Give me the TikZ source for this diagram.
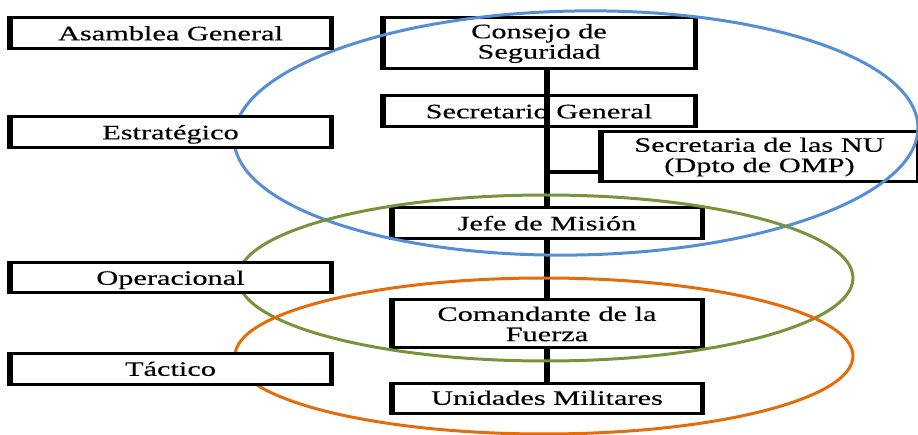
\documentclass[tikz,border=0pt]{standalone}
\usepackage{fontspec}
\setmainfont{Liberation Serif}[FakeStretch=1.48, FakeBold=0.3]
\definecolor{eblue}{HTML}{558ED5}
\definecolor{egreen}{HTML}{77933C}
\definecolor{eorange}{HTML}{E46C0A}
\tikzset{
  sidestroke/.style={draw=black, line width=4.8pt, line cap=butt},
  box/.style={draw=black, fill=white, line width=3pt, rectangle, inner sep=0pt, align=center,
    font=\fontsize{20.5}{20.3}\selectfont,
    append after command={(\tikzlastnode.north west) edge[sidestroke] (\tikzlastnode.south west)
      (\tikzlastnode.north east) edge[sidestroke] (\tikzlastnode.south east)}},
  oneline/.style={text height=15pt, text depth=1.4pt},
  link/.style={draw=black, line width=5.5pt},
  branch/.style={draw=black, line width=3.2pt},
  ring/.style={line width=3pt},
}
\begin{document}
\begin{tikzpicture}[x=1pt, y=-1pt]
\useasboundingbox (0,0) rectangle (918,435);
% central column
\node[box, minimum width=310, minimum height=51] (cs) at (539,43.5) {Consejo de\\Seguridad};
\node[box, oneline, minimum width=310, minimum height=31] (sg) at (539,111.5) {Secretario General};
\node[box, minimum width=315, minimum height=50] (nu) at (759.5,157) {Secretaria de las NU\\(Dpto de OMP)};
\node[box, oneline, minimum width=308, minimum height=31] (jm) at (547,223.5) {Jefe de Misión};
\node[box, minimum width=308, minimum height=48] (cf) at (547,324) {Comandante de la\\Fuerza};
\node[box, oneline, minimum width=308, minimum height=30] (um) at (547,398) {Unidades Militares};
% connectors
\coordinate (br) at (547,172);
\draw[link] (cs.south -| jm.north) -- (sg.south -| jm.north) -- (jm.north);
\draw[branch] (br) -- (br -| nu.west);
\draw[link] (jm.south) -- (cf.north);
\draw[link] (cf.south) -- (um.north);
% ellipses
\draw[eblue, ring, rotate around={1:(576,133)}] (576,133) ellipse [x radius=342, y radius=122];
\draw[egreen, ring] (545.5,278) ellipse [x radius=307.5, y radius=83];
\draw[eorange, ring] (544,356) ellipse [x radius=309, y radius=78];
% left column
\node[box, oneline, minimum width=319, minimum height=31] (ag) at (170.5,33.5) {Asamblea General};
\node[box, oneline, minimum width=319, minimum height=31] (es) at (170.5,132.5) {Estratégico};
\node[box, oneline, minimum width=319, minimum height=30] (op) at (170.5,278) {Operacional};
\node[box, oneline, minimum width=319, minimum height=30] (ta) at (170.5,369) {Táctico};
\end{tikzpicture}
\end{document}
